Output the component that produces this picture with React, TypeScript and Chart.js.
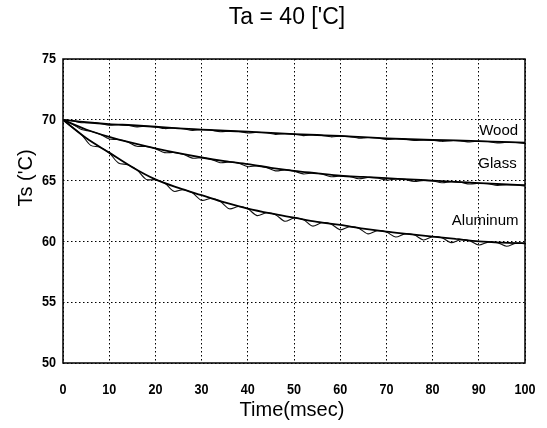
import React, { useEffect, useRef } from "react";
import { Chart, registerables } from "chart.js";

Chart.register(...registerables);

// ---- data ----
const fitTime = [0, 5, 10, 15, 20, 25, 30, 35, 40, 45, 50, 55, 60, 65, 70, 75, 80, 85, 90, 95, 100];
const woodFit = [70, 69.8, 69.65, 69.55, 69.43, 69.3, 69.2, 69.1, 69.02, 68.92, 68.83, 68.75, 68.67, 68.57, 68.48, 68.4, 68.34, 68.3, 68.25, 68.18, 68.12];
const glassFit = [70, 69.2, 68.6, 68.1, 67.65, 67.25, 66.9, 66.6, 66.35, 66.05, 65.8, 65.6, 65.4, 65.3, 65.2, 65.1, 65.0, 64.9, 64.8, 64.7, 64.62];
const aluminumFit = [70, 68.5, 67.3, 66.1, 65.1, 64.4, 63.8, 63.2, 62.7, 62.3, 61.95, 61.6, 61.35, 61.05, 60.8, 60.6, 60.4, 60.2, 60.0, 59.9, 59.85];

const measTime = [0, 2, 4, 6, 8, 10, 12, 14, 16, 18, 20, 22, 24, 26, 28, 30, 32, 34, 36, 38, 40, 42, 44, 46, 48, 50, 52, 54, 56, 58, 60, 62, 64, 66, 68, 70, 72, 74, 76, 78, 80, 82, 84, 86, 88, 90, 92, 94, 96, 98, 100];
const woodMeas = [70, 69.92, 69.76, 69.77, 69.7, 69.55, 69.6, 69.56, 69.42, 69.47, 69.42, 69.28, 69.32, 69.27, 69.13, 69.19, 69.15, 69.02, 69.07, 69.04, 68.92, 68.97, 68.93, 68.8, 68.86, 68.82, 68.7, 68.76, 68.72, 68.6, 68.66, 68.62, 68.49, 68.54, 68.51, 68.38, 68.44, 68.41, 68.3, 68.35, 68.33, 68.23, 68.29, 68.27, 68.18, 68.24, 68.21, 68.1, 68.15, 68.13, 68.05];
const glassMeas = [70.0, 69.66, 69.2, 69.06, 68.82, 68.42, 68.38, 68.18, 67.82, 67.81, 67.63, 67.3, 67.31, 67.16, 66.85, 66.88, 66.76, 66.47, 66.53, 66.43, 66.15, 66.21, 66.09, 65.8, 65.88, 65.78, 65.55, 65.62, 65.54, 65.32, 65.38, 65.34, 65.15, 65.26, 65.22, 65.05, 65.14, 65.1, 64.93, 65.02, 64.98, 64.82, 64.9, 64.86, 64.72, 64.78, 64.74, 64.6, 64.67, 64.64, 64.55];
const aluminumMeas = [70.0, 69.38, 68.78, 67.9, 67.74, 67.28, 66.45, 66.3, 65.88, 65.1, 65.07, 64.8, 64.12, 64.25, 64.0, 63.38, 63.53, 63.3, 62.68, 62.87, 62.68, 62.12, 62.35, 62.2, 61.66, 61.92, 61.8, 61.26, 61.53, 61.43, 60.95, 61.2, 61.09, 60.62, 60.88, 60.78, 60.36, 60.62, 60.54, 60.12, 60.38, 60.3, 59.9, 60.14, 60.06, 59.7, 59.94, 59.9, 59.6, 59.85, 59.82];

const seriesNames = ["Wood", "Glass", "Aluminum"];
const labelAt = [
  { x: 98.5, y: 69.1 },
  { x: 98.2, y: 66.37 },
  { x: 98.6, y: 61.68 },
];

const xTicks = [0, 10, 20, 30, 40, 50, 60, 70, 80, 90, 100];
const yTicks = [50, 55, 60, 65, 70, 75];

const titleText = "Ta = 40 ['C]";
const xTitle = "Time(msec)";
const yTitle = "Ts ('C)";

const toPts = (xs: number[], ys: number[]) => xs.map((x, i) => ({ x, y: ys[i] }));

export default function App() {
  const ref = useRef<HTMLCanvasElement>(null);
  useEffect(() => {
    if (!ref.current) return;
    const fits = [woodFit, glassFit, aluminumFit];
    const meas = [woodMeas, glassMeas, aluminumMeas];
    const datasets: any[] = [];
    fits.forEach((f, i) => {
      datasets.push({
        label: seriesNames[i] + " fit",
        data: toPts(fitTime, f),
        borderColor: "#000",
        borderWidth: 1.8,
        pointRadius: 0,
        cubicInterpolationMode: "monotone",
      });
      datasets.push({
        label: seriesNames[i],
        data: toPts(measTime, meas[i]),
        borderColor: "#111",
        borderWidth: 1.1,
        pointRadius: 0,
        tension: 0.3,
      });
    });
    const overlay = {
      id: "overlay",
      afterDraw(chart: any) {
        const { ctx, chartArea: a, scales } = chart;
        ctx.save();
        ctx.strokeStyle = "#000";
        ctx.lineWidth = 1.5;
        ctx.setLineDash([]);
        ctx.strokeRect(a.left, a.top, a.right - a.left, a.bottom - a.top);
        ctx.fillStyle = "#000";
        ctx.font = "bold 15px 'Liberation Sans', Arial, sans-serif";
        ctx.textBaseline = "middle";
        xTicks.forEach((v) => {
          ctx.save();
          ctx.translate(scales.x.getPixelForValue(v), 390);
          ctx.scale(0.84, 1);
          ctx.textAlign = "center";
          ctx.fillText(String(v), 0, 0);
          ctx.restore();
        });
        yTicks.forEach((v) => {
          ctx.save();
          ctx.translate(56, scales.y.getPixelForValue(v));
          ctx.scale(0.84, 1);
          ctx.textAlign = "right";
          ctx.fillText(String(v), 0, 0);
          ctx.restore();
        });
        ctx.font = "15px 'Liberation Sans', Arial, sans-serif";
        ctx.textAlign = "right";
        seriesNames.forEach((n, i) => {
          ctx.fillText(n, scales.x.getPixelForValue(labelAt[i].x), scales.y.getPixelForValue(labelAt[i].y));
        });
        ctx.textAlign = "center";
        ctx.font = "23px 'Liberation Sans', Arial, sans-serif";
        ctx.fillText(titleText, 287, 18);
        ctx.font = "20px 'Liberation Sans', Arial, sans-serif";
        ctx.fillText(xTitle, 292, 410);
        ctx.translate(26, 178);
        ctx.rotate(-Math.PI / 2);
        ctx.fillText(yTitle, 0, 0);
        ctx.restore();
      },
    };
    const chart = new Chart(ref.current, {
      type: "line",
      data: { datasets },
      plugins: [overlay],
      options: {
        animation: false,
        responsive: false,
        devicePixelRatio: 1,
        layout: { padding: { top: 59, right: 22, left: 0, bottom: 0 } },
        plugins: { legend: { display: false }, title: { display: false }, tooltip: { enabled: false } },
        scales: {
          x: {
            type: "linear",
            min: 0,
            max: 100,
            afterFit: (s: any) => { s.height = 65; },
            afterBuildTicks: (s: any) => { s.ticks = xTicks.map((v) => ({ value: v })); },
            ticks: { display: false },
            grid: { color: "#000", lineWidth: 1, drawTicks: false },
            border: { display: false, dash: [1.5, 2.5] },
          },
          y: {
            type: "linear",
            min: 50,
            max: 75,
            afterFit: (s: any) => { s.width = 63; },
            afterBuildTicks: (s: any) => { s.ticks = yTicks.map((v) => ({ value: v })); },
            ticks: { display: false },
            grid: { color: "#000", lineWidth: 1, drawTicks: false },
            border: { display: false, dash: [1.5, 2.5] },
          },
        },
      },
    });
    return () => chart.destroy();
  }, []);
  return (
    <div style={{ position: "absolute", left: 0, top: 0, width: 547, height: 428, background: "#fff" }}>
      <canvas ref={ref} width={547} height={428} />
    </div>
  );
}
